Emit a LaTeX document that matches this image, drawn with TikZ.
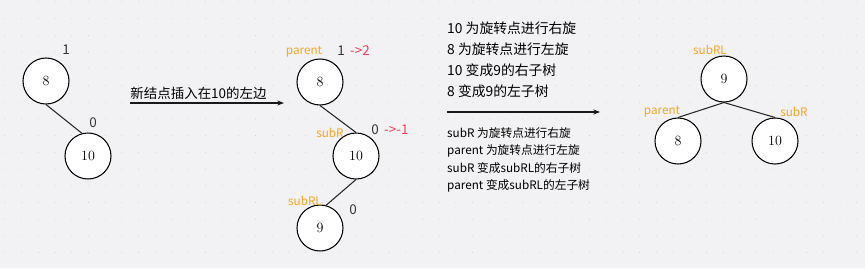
\documentclass[tikz,border=0pt]{standalone}
\usepackage{fontspec}
\setmainfont{Noto Sans CJK SC}
\newfontfamily\numfont{Latin Modern Roman}
\usepackage{tikz}
\usetikzlibrary{arrows.meta,positioning,calc}
\definecolor{bgc}{HTML}{F2F2F4}
\definecolor{dotc}{HTML}{C9C9CE}
\definecolor{tagc}{HTML}{F5A623}
\definecolor{chg}{HTML}{F03C5A}

\begin{document}
\begin{tikzpicture}[x=0.03cm, y=-0.03cm,
  nd/.style={draw, circle, line width=0.9pt, fill=white, minimum size=1.38cm, inner sep=0pt, font=\numfont\fontsize{12}{13}\selectfont},
  tag/.style={text=tagc, font=\fontsize{10}{11}\selectfont, inner sep=0pt},
  bal/.style={text=black!80, font=\fontsize{11.5}{12}\selectfont, inner sep=0pt},
  upd/.style={text=chg, font=\fontsize{11.5}{12}\selectfont, inner sep=0pt},
  edg/.style={line width=0.9pt, black!85},
  arr/.style={-{Stealth[length=2mm]}, line width=0.9pt, black!90},
  note/.style={align=left, anchor=west, inner sep=0pt}]
\useasboundingbox (0,0) rectangle (865,268);
\fill[bgc] (0,0) rectangle (865,268);
\foreach \i in {0,...,51} \foreach \j in {0,...,15}
  \fill[dotc] ({5+16.7*\i},{2+16.7*\j}) circle (0.35pt);

% before insertion
\node[nd] (a8) at (46,81) {8};
\node[nd] (a10) at (88,156) {10};
\draw[edg] (a8.south) -- (a10.105);
\node[bal] (ab8) at (66,50) {1};
\node[bal] (ab10) at (93,123) {0};

% insert arrow
\coordinate (i1) at (130,103);
\coordinate (i2) at (284,103);
\draw[arr] (i1) -- (i2);
\node[font=\fontsize{11.5}{12}\selectfont, anchor=south west, inner sep=1pt] (ins) at (129,101) {新结点插入在10的左边};

% after insertion
\node[nd] (b8) at (320,82) {8};
\node[nd] (b10) at (356,156) {10};
\node[nd] (b9) at (320,228) {9};
\draw[edg] (b8.south) -- (b10.north);
\draw[edg] (b10.south) -- (b9.75);
\node[tag] (tp) at (304,52) {parent};
\node[bal] (bb8) at (341,51) {1};
\node[upd, right=1.5mm of bb8] (u8) {->2};
\node[tag] (tr) at (330,133) {subR};
\node[bal] (bb10) at (375,130) {0};
\node[upd, right=1.5mm of bb10] (u10) {->-1};
\node[tag] (trl) at (305,201) {subRL};
\node[bal] (bb9) at (353,210) {0};

% notes
\node[note, font=\fontsize{11.8}{18}\selectfont] (n1) at (447,60)
  {10 为旋转点进行右旋\\8 为旋转点进行左旋\\10 变成9的右子树\\8 变成9的左子树};
\coordinate (r1) at (447,112);
\coordinate (r2) at (600,112);
\draw[arr] (r1) -- (r2);
\node[note, font=\fontsize{10}{15}\selectfont] (n2) at (447,160)
  {subR 为旋转点进行右旋\\parent 为旋转点进行左旋\\subR 变成subRL的右子树\\parent 变成subRL的左子树};

% after rotation
\node[nd] (c9) at (724,79) {9};
\node[nd] (c8) at (678,141) {8};
\node[nd] (c10) at (775,141) {10};
\draw[edg] (c9.south) -- (c8.north);
\draw[edg] (c9.south) -- (c10.north);
\node[tag] (crl) at (710,50) {subRL};
\node[tag] (cp) at (662,112) {parent};
\node[tag] (cr) at (794,112) {subR};
\end{tikzpicture}
\end{document}
